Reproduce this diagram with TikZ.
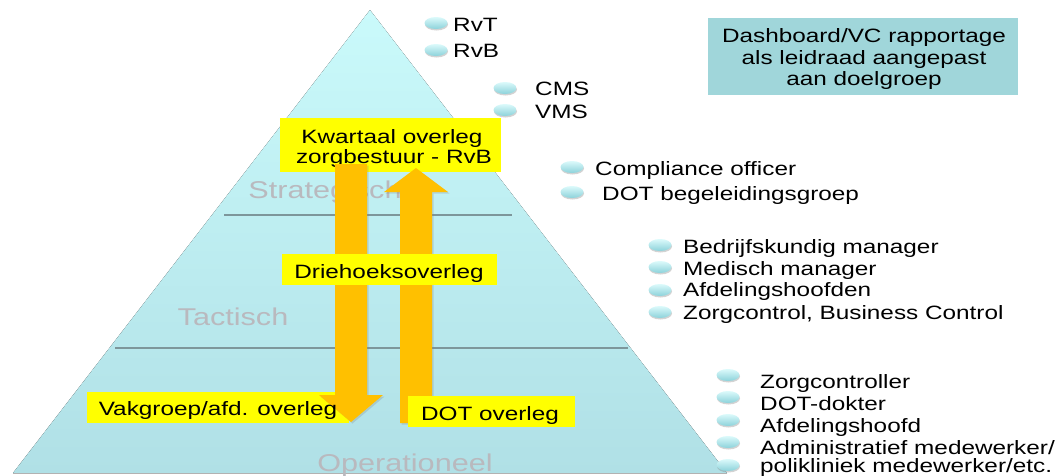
\documentclass[tikz,border=0pt]{standalone}
\usepackage{fontspec}
\setmainfont[FakeStretch=1.26]{Liberation Sans}
\usetikzlibrary{shadows,shapes.geometric}
\definecolor{pyrtop}{RGB}{202,250,251}
\definecolor{pyrbot}{RGB}{176,224,230}
\definecolor{arrowor}{RGB}{255,192,0}
\definecolor{ylw}{RGB}{255,255,0}
\definecolor{tealbox}{RGB}{160,214,218}
\definecolor{lvlgray}{RGB}{185,185,190}
\definecolor{sepline}{RGB}{125,150,155}
\definecolor{bultop}{RGB}{220,250,251}
\definecolor{bulbot}{RGB}{140,210,218}
\tikzset{
  txt/.style={inner sep=0pt, anchor=base west, font=\fontsize{19.3}{21}\selectfont, text=black},
  ctxt/.style={txt, anchor=base},
  lvl/.style={inner sep=0pt, anchor=base, font=\fontsize{24.3}{26}\selectfont, text=lvlgray},
  ybox/.style={rectangle, fill=ylw, draw=none, inner sep=0pt},
  tbox/.style={rectangle, fill=tealbox, draw=none, inner sep=0pt},
  bul/.style={ellipse, minimum width=23pt, minimum height=12pt, inner sep=0pt,
    top color=bultop, bottom color=bulbot,
    drop shadow={opacity=0.35, shadow xshift=0.5pt, shadow yshift=-1.5pt, fill=gray}},
  blockarrow/.style={fill=arrowor, drop shadow={opacity=0.25, shadow xshift=1.5pt, shadow yshift=-1.5pt}},
  sep/.style={draw=sepline, line width=1.8pt}
}
\begin{document}
\begin{tikzpicture}[x=1pt,y=-1pt]
\useasboundingbox (0,0) rectangle (1060,475);
% pyramid
\fill[top color=pyrtop, bottom color=pyrbot] (370,10) -- (727,473) -- (13,473) -- cycle;
\draw[gray!60, line width=1pt] (13,473.5) -- (727,473.5);
% separator lines
\draw[sep] (224,215) -- (512,215);
\draw[sep] (115,348) -- (628,348);
% level labels
\node[lvl] (strat) at (325,198) {Strategisch};
\node[lvl] (tact) at (233,325) {Tactisch};
\node[lvl] (oper) at (405,471) {Operationeel};
% yellow boxes below arrows
\node[ybox, minimum width=221pt, minimum height=54pt] (kwbox) at (390.5,145) {};
\node[ctxt] (kw1) at (392,143.3) {Kwartaal overleg};
\node[ctxt] (kw2) at (394,163.3) {zorgbestuur - RvB};
\node[ybox, minimum width=262pt, minimum height=31pt] (vakbox) at (218,407.5) {};
% block arrows
\path[blockarrow] (335,164) -- (367,164) -- (367,395) -- (383,395) -- (351,422) -- (319,395) -- (335,395) -- cycle;
\path[blockarrow] (400,423) -- (432,423) -- (432,192) -- (448,192) -- (416,168) -- (384,192) -- (400,192) -- cycle;
% yellow boxes on arrows
\node[ybox, minimum width=215pt, minimum height=31pt] (driebox) at (389.5,269.5) {};
\node[ctxt] (drie) at (389,278.3) {Driehoeksoverleg};
\node[ctxt] (vak) at (218,415) {Vakgroep/afd. overleg};
\node[ybox, minimum width=167pt, minimum height=31pt] (dotbox) at (491.5,411.5) {};
\node[ctxt] (dot) at (490,420) {DOT overleg};
% teal box
\node[tbox, minimum width=310pt, minimum height=77pt] (dash) at (863,56.5) {};
\node[ctxt] (dash1) at (864,42.7) {Dashboard/VC rapportage};
\node[ctxt] (dash2) at (864,64.3) {als leidraad aangepast};
\node[ctxt] (dash3) at (864,85.7) {aan doelgroep};
% bullets and lists
\node[bul] (b1) at (436,23) {};
\node[bul] (b2) at (436,50) {};
\node[txt] (t1) at (453,31.7) {RvT};
\node[txt] (t2) at (453,57.7) {RvB};
\node[bul] (b3) at (505,88) {};
\node[bul] (b4) at (505,110) {};
\node[txt] (t3) at (535,95) {CMS};
\node[txt] (t4) at (535,118.3) {VMS};
\node[bul] (b5) at (572,167) {};
\node[bul] (b6) at (572,192) {};
\node[txt] (t5) at (595,175) {Compliance officer};
\node[txt] (t6) at (602,200) {DOT begeleidingsgroep};
\node[bul] (b7) at (660,245) {};
\node[bul] (b8) at (660,267) {};
\node[bul] (b9) at (660,290) {};
\node[bul] (b10) at (660,312) {};
\node[txt] (t7) at (683,253.3) {Bedrijfskundig manager};
\node[txt] (t8) at (683,275) {Medisch manager};
\node[txt] (t9) at (683,296.7) {Afdelingshoofden};
\node[txt] (t10) at (683,319) {Zorgcontrol, Business Control};
\node[bul] (b11) at (728,375) {};
\node[bul] (b12) at (728,397) {};
\node[bul] (b13) at (728,420) {};
\node[bul] (b14) at (728,442) {};
\node[bul] (b15) at (728,465) {};
\node[txt] (t11) at (760,388.3) {Zorgcontroller};
\node[txt] (t12) at (760,410) {DOT-dokter};
\node[txt] (t13) at (760,432) {Afdelingshoofd};
\node[txt] (t14) at (760,454) {Administratief medewerker/};
\node[txt] (t15) at (760,472.5) {polikliniek medewerker/etc.};
\end{tikzpicture}
\end{document}
